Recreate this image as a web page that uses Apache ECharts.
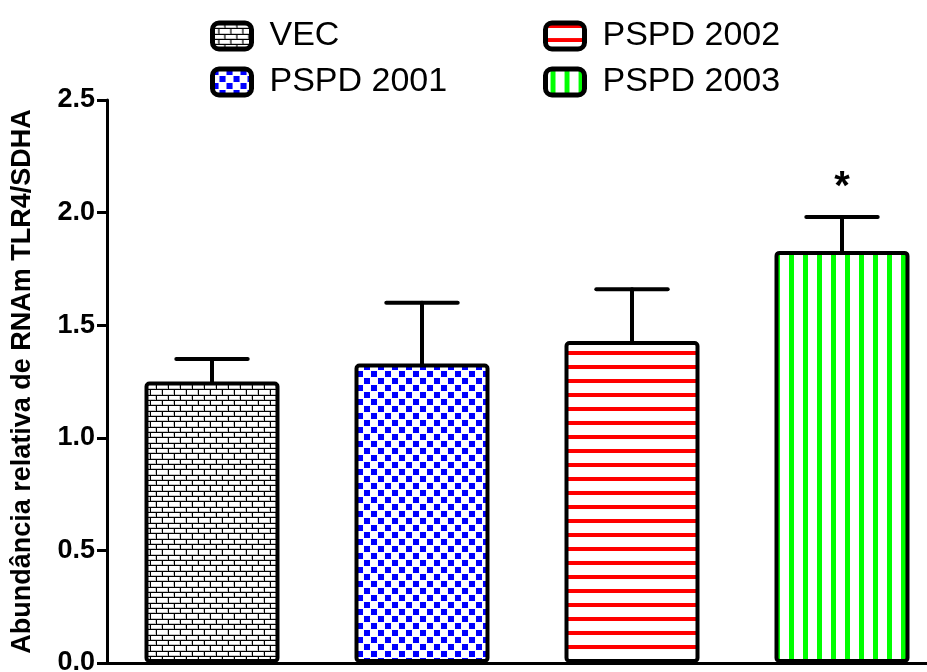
<!DOCTYPE html>
<html>
<head>
<meta charset="utf-8">
<script src="https://cdn.jsdelivr.net/npm/echarts@6/dist/echarts.min.js"></script>
<style>
  html, body { margin: 0; padding: 0; background: #fff; }
  #chart { width: 927px; height: 672px; }
</style>
</head>
<body>
<div id="chart"></div>
<script>
// dados
const categories = ["VEC", "PSPD 2001", "PSPD 2002", "PSPD 2003"];
const means = [1.25, 1.33, 1.43, 1.83];
const upperErr = [1.35, 1.60, 1.66, 1.98];
const signif = ["", "", "", "*"];
const yTicks = [0, 0.5, 1.0, 1.5, 2.0, 2.5];

const FONT = "Liberation Sans, Arial, sans-serif";

// padrões de preenchimento (tipo GraphPad)
function makeCanvas(w, h) {
  const c = document.createElement("canvas");
  c.width = w;
  c.height = h;
  return c;
}
function brickPattern() {
  const c = makeCanvas(12, 32);
  const ctx = c.getContext("2d");
  ctx.fillStyle = "#000";
  ctx.fillRect(0, 0, 12, 32);
  const rows = [0, 5, 11, 16, 21, 27, 32];
  for (let r = 0; r < 6; r++) {
    const y0 = rows[r] + 1, h = rows[r + 1] - rows[r] - 1;
    const off = r % 2 === 0 ? 0 : 6;
    for (let k = -1; k < 2; k++) {
      const x0 = off + k * 12 + 1;
      ctx.fillStyle = "#c8c8c8";
      ctx.fillRect(x0, y0, 11, h);
      ctx.fillStyle = "#fff";
      ctx.fillRect(x0, y0, 10, h - 1);
    }
  }
  return c;
}
function checkerPattern() {
  const c = makeCanvas(14, 14);
  const ctx = c.getContext("2d");
  ctx.fillStyle = "#fff";
  ctx.fillRect(0, 0, 14, 14);
  ctx.fillStyle = "#0000ff";
  ctx.fillRect(0, 0, 6, 6);
  ctx.fillRect(7, 7, 6, 6);
  return c;
}
function hStripePattern() {
  const c = makeCanvas(14, 14);
  const ctx = c.getContext("2d");
  ctx.fillStyle = "#fff";
  ctx.fillRect(0, 0, 14, 14);
  ctx.fillStyle = "#ff0000";
  ctx.fillRect(0, 1, 14, 4);
  return c;
}
function vStripePattern() {
  const c = makeCanvas(14, 14);
  const ctx = c.getContext("2d");
  ctx.fillStyle = "#fff";
  ctx.fillRect(0, 0, 14, 14);
  ctx.fillStyle = "#00ff00";
  ctx.fillRect(5, 0, 5, 14);
  return c;
}
const patterns = [brickPattern(), checkerPattern(), hStripePattern(), vStripePattern()];

const barSeries = categories.map((name, i) => ({
  name: name,
  type: "bar",
  barWidth: 135,
  barGap: "-100%",
  data: means.map((v, j) => (j === i ? v : "-")),
  itemStyle: {
    color: { image: patterns[i], repeat: "repeat" },
    borderColor: "#000",
    borderWidth: 4,
    borderRadius: 3
  },
  emphasis: { disabled: true },
  z: 2
}));

const errSeries = {
  type: "custom",
  name: "err",
  z: 3,
  data: categories.map((c, i) => [i, means[i], upperErr[i], signif[i]]),
  renderItem: function (params, api) {
    const i = api.value(0);
    const top = api.coord([i, api.value(2)]);
    const base = api.coord([i, api.value(1)]);
    const half = api.size([1, 0])[0] * 0.17;
    const style = { stroke: "#000", lineWidth: 4, lineCap: "round" };
    const children = [
      { type: "line", shape: { x1: top[0], y1: base[1], x2: top[0], y2: top[1] }, style: style },
      { type: "line", shape: { x1: top[0] - half, y1: top[1], x2: top[0] + half, y2: top[1] }, style: style }
    ];
    const s = signif[params.dataIndex];
    if (s) {
      children.push({
        type: "text",
        style: {
          text: s,
          x: top[0],
          y: top[1] - 29,
          align: "center",
          verticalAlign: "middle",
          fill: "#000",
          font: "bold 40px " + FONT
        }
      });
    }
    return { type: "group", children: children };
  }
};

const legendCommon = {
  orient: "vertical",
  itemWidth: 39,
  itemHeight: 26,
  itemGap: 12,
  icon: "roundRect",
  selectedMode: false,
  itemStyle: { borderColor: "#000", borderWidth: 5 },
  textStyle: { fontFamily: FONT, fontSize: 34, color: "#000", lineHeight: 34, padding: [0, 0, 0, 13] }
};

const chart = echarts.init(document.getElementById("chart"));
chart.setOption({
  animation: false,
  backgroundColor: "#fff",
  legend: [
    Object.assign({}, legendCommon, { left: 205, top: 14, data: [categories[0], categories[1]] }),
    Object.assign({}, legendCommon, { left: 538, top: 14, data: [categories[2], categories[3]] })
  ],
  grid: { left: 107, top: 100, width: 840, height: 563, containLabel: false, outerBoundsMode: "none" },
  xAxis: {
    type: "category",
    data: categories,
    axisLine: { lineStyle: { color: "#000", width: 3 } },
    axisTick: { alignWithLabel: true, length: 10, lineStyle: { color: "#000", width: 3 } },
    axisLabel: { show: false },
    splitLine: { show: false }
  },
  yAxis: {
    type: "value",
    min: yTicks[0],
    max: yTicks[yTicks.length - 1],
    interval: 0.5,
    name: "Abundância relativa de RNAm TLR4/SDHA",
    nameLocation: "middle",
    nameGap: 71,
    nameMoveOverlap: false,
    nameTextStyle: { fontFamily: FONT, fontSize: 27, fontWeight: "bold", color: "#000" },
    axisLine: { show: true, lineStyle: { color: "#000", width: 3 } },
    axisTick: { show: true, length: 10, lineStyle: { color: "#000", width: 3 } },
    axisLabel: {
      fontFamily: FONT,
      fontSize: 27,
      fontWeight: "bold",
      color: "#000",
      margin: 12,
      formatter: v => v.toFixed(1)
    },
    splitLine: { show: false }
  },
  series: barSeries.concat([errSeries])
});
</script>
</body>
</html>
